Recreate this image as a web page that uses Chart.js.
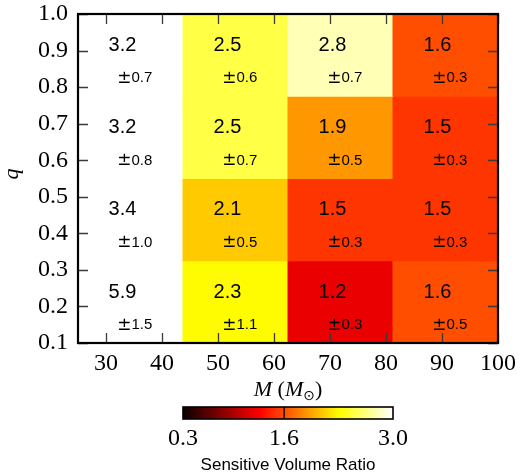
<!DOCTYPE html>
<html>
<head>
<meta charset="utf-8">
<script src="https://cdn.jsdelivr.net/npm/chart.js@4.4.1/dist/chart.umd.min.js"></script>
<style>
  html, body { margin: 0; padding: 0; background: #ffffff; }
  #wrap { width: 526px; height: 475px; position: relative; }
</style>
</head>
<body>
<div id="wrap"><canvas id="c" width="526" height="475"></canvas></div>
<script>
// ---------------- data ----------------
const massEdges = [25, 43.75, 62.5, 81.25, 100];
const qEdges = [0.1, 0.325, 0.55, 0.775, 1.0];
// sensitive volume ratio, one array per q bin (bottom to top), one value per mass bin
const ratioQ1 = [5.9, 2.3, 1.2, 1.6];
const ratioQ2 = [3.4, 2.1, 1.5, 1.5];
const ratioQ3 = [3.2, 2.5, 1.9, 1.5];
const ratioQ4 = [3.2, 2.5, 2.8, 1.6];
const errQ1 = [1.5, 1.1, 0.3, 0.5];
const errQ2 = [1.0, 0.5, 0.3, 0.3];
const errQ3 = [0.8, 0.7, 0.5, 0.3];
const errQ4 = [0.7, 0.6, 0.7, 0.3];
const xTicks = [30, 40, 50, 60, 70, 80, 90, 100];
const yTicks = [0.1, 0.2, 0.3, 0.4, 0.5, 0.6, 0.7, 0.8, 0.9, 1.0];
const cbRange = [0.3, 3.0];
const cbTicks = [0.3, 1.6, 3.0];
const xTitle = ['M', ' (', 'M', '\u2299', ')'];
const yTitle = 'q';
const cbTitle = 'Sensitive Volume Ratio';

const ratios = [ratioQ1, ratioQ2, ratioQ3, ratioQ4];
const errs = [errQ1, errQ2, errQ3, errQ4];

// matplotlib "hot" colormap
function hot(v) {
  let n = (v - cbRange[0]) / (cbRange[1] - cbRange[0]);
  n = Math.max(0, Math.min(1, n));
  const a = 0.365079, b = 0.746032;
  const r = n < a ? 0.0416 + (1 - 0.0416) * n / a : 1;
  const g = n < a ? 0 : (n < b ? (n - a) / (b - a) : 1);
  const bl = n < b ? 0 : (n - b) / (1 - b);
  return 'rgb(' + Math.round(r * 255) + ',' + Math.round(g * 255) + ',' + Math.round(bl * 255) + ')';
}

const cellData = [], cellColors = [];
ratios.forEach((row, r) => row.forEach((v, i) => {
  cellData.push({ x: (massEdges[i] + massEdges[i + 1]) / 2, y: [qEdges[r], qEdges[r + 1]] });
  cellColors.push(hot(v));
}));

const SERIF = '"Liberation Serif", "Times New Roman", serif';
const SANS = '"Liberation Sans", Arial, sans-serif';

const decorPlugin = {
  id: 'decor',
  afterDatasetsDraw(chart) {
    const ctx = chart.ctx;
    const xs = chart.scales.x, ys = chart.scales.y;
    const ca = chart.chartArea;
    ctx.save();
    // cell annotations
    ctx.fillStyle = '#000';
    ratios.forEach((row, r) => {
      row.forEach((v, i) => {
        const lo = massEdges[i];
        const top = qEdges[r + 1];
        const mx = xs.getPixelForValue(lo + 7.95);
        const my = ys.getPixelForValue(top - 0.086);
        ctx.font = '20px ' + SANS;
        ctx.textAlign = 'center';
        ctx.textBaseline = 'middle';
        ctx.fillText(v.toFixed(1), mx, my);
        const ax = xs.getPixelForValue(lo + 9.55);
        const ay = ys.getPixelForValue(top - 0.176);
        ctx.font = '15px ' + SANS;
        ctx.textAlign = 'left';
        ctx.fillText(errs[r][i].toFixed(1), ax, ay);
        ctx.font = '17px "DejaVu Sans", sans-serif';
        ctx.textAlign = 'right';
        ctx.fillText('\u00B1', ax, ay);
      });
    });
    // inward ticks on all four sides
    ctx.strokeStyle = '#3a3a3a';
    ctx.lineWidth = 1.3;
    const tl = 10;
    xTicks.forEach(t => {
      const px = Math.round(xs.getPixelForValue(t)) + 0.5;
      ctx.beginPath();
      ctx.moveTo(px, ca.bottom); ctx.lineTo(px, ca.bottom - tl);
      ctx.moveTo(px, ca.top); ctx.lineTo(px, ca.top + tl);
      ctx.stroke();
    });
    yTicks.forEach(t => {
      const py = Math.round(ys.getPixelForValue(t)) + 0.5;
      ctx.beginPath();
      ctx.moveTo(ca.left, py); ctx.lineTo(ca.left + tl, py);
      ctx.moveTo(ca.right, py); ctx.lineTo(ca.right - tl, py);
      ctx.stroke();
    });
    // frame
    ctx.strokeStyle = '#000';
    ctx.lineWidth = 2.2;
    ctx.strokeRect(ca.left, ca.top, ca.right - ca.left, ca.bottom - ca.top);
    ctx.restore();
  },
  afterDraw(chart) {
    const ctx = chart.ctx;
    const ca = chart.chartArea;
    ctx.save();
    // x title with subscript
    const parts = [
      { t: xTitle[0], f: 'italic 22px ' + SERIF, dy: 0 },
      { t: xTitle[1], f: '22px ' + SERIF, dy: 0 },
      { t: xTitle[2], f: 'italic 22px ' + SERIF, dy: 0 },
      { t: xTitle[3], f: '14px "DejaVu Sans", sans-serif', dy: 4 },
      { t: xTitle[4], f: '22px ' + SERIF, dy: 0 }
    ];
    let total = 0;
    parts.forEach(p => { ctx.font = p.f; p.w = ctx.measureText(p.t).width; total += p.w; });
    let x = (ca.left + ca.right) / 2 - total / 2;
    const by = 396;
    ctx.fillStyle = '#000';
    ctx.textBaseline = 'alphabetic';
    ctx.textAlign = 'left';
    parts.forEach(p => { ctx.font = p.f; ctx.fillText(p.t, x, by + p.dy); x += p.w; });
    // y title
    ctx.save();
    ctx.translate(18, 174);
    ctx.rotate(-Math.PI / 2);
    ctx.font = 'italic 22px ' + SERIF;
    ctx.textAlign = 'center';
    ctx.textBaseline = 'alphabetic';
    ctx.fillText(yTitle, 0, 0);
    ctx.restore();
    // colorbar
    const w = ca.right - ca.left;
    const cl = ca.left + 0.25 * w, cr = ca.left + 0.75 * w;
    const ct = 407, cb = 419;
    const cw = cr - cl;
    for (let px = 0; px < Math.ceil(cw); px++) {
      const v = cbRange[0] + (px + 0.5) / cw * (cbRange[1] - cbRange[0]);
      ctx.fillStyle = hot(v);
      ctx.fillRect(cl + px, ct, 1.2, cb - ct);
    }
    const cbX = v => cl + (v - cbRange[0]) / (cbRange[1] - cbRange[0]) * cw;
    ctx.strokeStyle = '#000';
    ctx.lineWidth = 1.3;
    cbTicks.forEach(t => {
      const px = cbX(t);
      if (t > cbRange[0] && t < cbRange[1]) {
        ctx.beginPath(); ctx.moveTo(px, ct); ctx.lineTo(px, cb); ctx.stroke();
      }
    });
    ctx.lineWidth = 1.6;
    ctx.strokeRect(cl, ct, cw, cb - ct);
    ctx.fillStyle = '#000';
    ctx.font = '24px ' + SERIF;
    ctx.textAlign = 'center';
    ctx.textBaseline = 'middle';
    cbTicks.forEach(t => ctx.fillText(t.toFixed(1), cbX(t), 439));
    ctx.font = '17px ' + SANS;
    ctx.fillText(cbTitle, (cl + cr) / 2, 465);
    ctx.restore();
  }
};

new Chart(document.getElementById('c'), {
  type: 'bar',
  data: {
    datasets: [{
      data: cellData,
      backgroundColor: cellColors,
      borderWidth: 0,
      barPercentage: 1,
      categoryPercentage: 1,
      inflateAmount: 0.5,
      xAxisID: 'xb'
    }]
  },
  options: {
    responsive: false,
    animation: false,
    events: [],
    layout: { padding: { top: 14, right: 28, bottom: 80, left: 0 } },
    plugins: { legend: { display: false }, tooltip: { enabled: false } },
    scales: {
      xb: {
        type: 'linear',
        display: false,
        position: 'bottom',
        min: massEdges[0],
        max: massEdges[massEdges.length - 1],
        offset: false,
        afterBuildTicks: s => { s.ticks = massEdges.map(v => ({ value: v })); }
      },
      x: {
        type: 'linear',
        position: 'bottom',
        min: massEdges[0],
        max: massEdges[massEdges.length - 1],
        offset: false,
        grid: { display: false, drawTicks: false },
        border: { display: false },
        afterBuildTicks: s => { s.ticks = xTicks.map(v => ({ value: v })); },
        afterFit: s => { s.height = 52; s.paddingLeft = 0; s.paddingRight = 0; },
        ticks: {
          autoSkip: false, maxRotation: 0, padding: 6,
          color: '#000', font: { family: SERIF, size: 24 },
          callback: v => String(v)
        }
      },
      y: {
        type: 'linear',
        min: qEdges[0],
        max: qEdges[qEdges.length - 1],
        grid: { display: false, drawTicks: false },
        border: { display: false },
        afterBuildTicks: s => { s.ticks = yTicks.map(v => ({ value: v })); },
        afterFit: s => { s.width = 78; s.paddingTop = 0; s.paddingBottom = 0; },
        ticks: {
          autoSkip: false, padding: 10,
          color: '#000', font: { family: SERIF, size: 24 },
          callback: v => Number(v).toFixed(1)
        }
      }
    }
  },
  plugins: [decorPlugin]
});
</script>
</body>
</html>
